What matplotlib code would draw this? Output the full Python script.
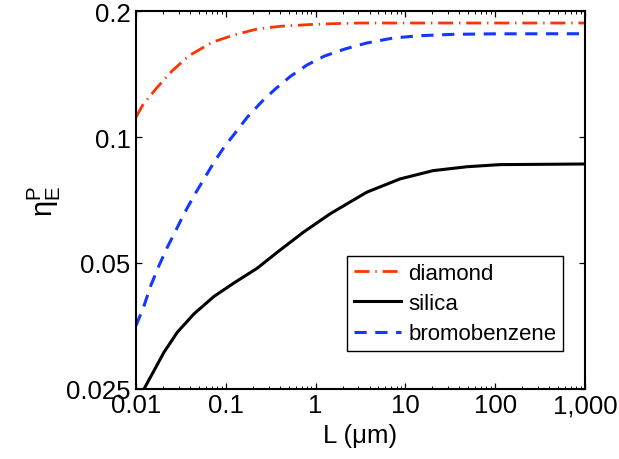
import matplotlib
matplotlib.use("Agg")
import matplotlib.pyplot as plt
from matplotlib.ticker import FixedLocator, FixedFormatter, LogLocator, NullLocator

plt.rcParams['font.family'] = ['Liberation Sans', 'DejaVu Sans']
plt.rcParams['mathtext.fontset'] = 'custom'
plt.rcParams['mathtext.rm'] = 'Liberation Sans'
plt.rcParams['mathtext.it'] = 'Liberation Sans'

# Data
diamond_L = [0.01, 0.01175, 0.01396, 0.01727, 0.02537, 0.0389, 0.0707, 0.1234,
             0.2243, 0.4087, 0.809, 1.473, 3.12, 10, 100, 1000]
diamond_eta = [0.1115, 0.1188, 0.1244, 0.1315, 0.1440, 0.1564, 0.1684, 0.1753,
               0.1812, 0.1839, 0.1855, 0.1865, 0.1872, 0.1872, 0.1872, 0.1872]

silica_L = [0.01228, 0.01586, 0.02050, 0.02884, 0.04425, 0.0739, 0.1234, 0.2243,
            0.381, 0.730, 1.446, 3.71, 8.71, 20.3, 48.2, 113, 1000]
silica_eta = [0.025, 0.02765, 0.0306, 0.03415, 0.0378, 0.0416, 0.0448, 0.0486,
              0.0532, 0.0592, 0.0655, 0.0738, 0.0794, 0.0831, 0.0849, 0.0859, 0.0862]

bromo_L = [0.01, 0.01228, 0.01458, 0.01804, 0.02232, 0.02768, 0.03423, 0.04425,
           0.0572, 0.0739, 0.0955, 0.1289, 0.1735, 0.2530, 0.3558, 0.5227, 0.802,
           1.256, 2.125, 3.71, 7.33, 14.5, 34.2, 95.2, 1000]
bromo_eta = [0.0354, 0.0395, 0.0441, 0.0493, 0.0545, 0.0597, 0.0655, 0.0724,
             0.0794, 0.0870, 0.0945, 0.1026, 0.1115, 0.1216, 0.1302, 0.1395, 0.1486,
             0.1561, 0.1623, 0.1677, 0.1724, 0.1746, 0.1759, 0.1764, 0.1765]

x_ticks = [0.01, 0.1, 1, 10, 100, 1000]
x_ticklabels = ['0.01', '0.1', '1', '10', '100', '1,000']
y_ticks = [0.025, 0.05, 0.1, 0.2]
y_ticklabels = ['0.025', '0.05', '0.1', '0.2']

fig = plt.figure(figsize=(6.19, 4.60), dpi=100)
ax = fig.add_axes([0.2197, 0.1522, 0.7253, 0.8217])

ax.plot(diamond_L, diamond_eta, color='#ff3300', lw=2.0, dashes=(5.4, 2.1, 0.5, 2.1),
        label='diamond', solid_joinstyle='round')
ax.plot(silica_L, silica_eta, color='black', lw=2.2, label='silica',
        solid_joinstyle='round')
ax.plot(bromo_L, bromo_eta, color='#1438ff', lw=2.2, dashes=(4.0, 2.8),
        label='bromobenzene')

ax.set_xscale('log')
ax.set_yscale('log')
ax.set_xlim(0.01, 1000)
ax.set_ylim(0.025, 0.2)

ax.xaxis.set_major_locator(FixedLocator(x_ticks))
ax.xaxis.set_major_formatter(FixedFormatter(x_ticklabels))
ax.xaxis.set_minor_locator(LogLocator(base=10, subs=range(2, 10), numticks=20))
ax.yaxis.set_major_locator(FixedLocator(y_ticks))
ax.yaxis.set_major_formatter(FixedFormatter(y_ticklabels))
ax.yaxis.set_minor_locator(NullLocator())

ax.tick_params(which='both', direction='in', top=True, right=True, labelsize=18.5)
ax.tick_params(axis='y', which='major', pad=4)
ax.tick_params(axis='x', which='major', pad=3)
ax.tick_params(which='major', length=4.5, width=0.9)
ax.tick_params(which='minor', length=2.2, width=0.7)
for s in ax.spines.values():
    s.set_linewidth(1.5)

ax.set_xlabel('L (μm)', fontsize=18.5, labelpad=4)
ax.set_ylabel(r'$\mathrm{η}^{\mathrm{P}}_{\mathrm{E}}$', fontsize=21, labelpad=2)

leg = ax.legend(loc='lower left', bbox_to_anchor=(0.4699, 0.1005), borderaxespad=0,
                fontsize=16, frameon=True, fancybox=False, edgecolor='black',
                handlelength=2.15, borderpad=0.3, labelspacing=0.42,
                handletextpad=0.3, framealpha=1)
leg.get_frame().set_linewidth(1.0)

fig.savefig('out.png', dpi=100)
